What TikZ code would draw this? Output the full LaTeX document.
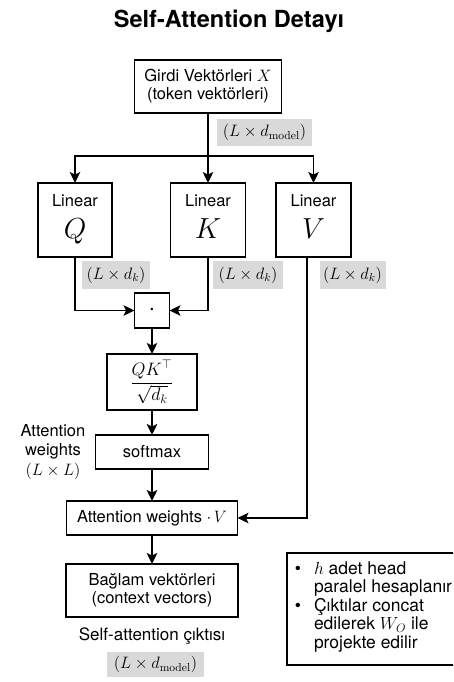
\RequirePackage{fix-cm}
\documentclass[tikz,border=0pt]{standalone}
\usepackage{amsmath}
\usepackage[no-math]{fontspec}
\setmainfont{TeX Gyre Heros}
\usetikzlibrary{arrows.meta}
\definecolor{tagfill}{HTML}{D9D9D9}
\newcommand\txtsize{\fontsize{16.5}{18}\selectfont}
\newcommand\notesize{\fontsize{17.5}{18.5}\selectfont}
\newcommand\bigsym{\fontsize{29}{32}\selectfont}
\newcommand\headsize{\fontsize{23.5}{26}\selectfont\bfseries}
\begin{document}
\begin{tikzpicture}[x=1pt,y=-1pt,line width=1.8pt,
  every node/.style={inner sep=0pt,outer sep=0pt},
  box/.style={draw,line width=1.8pt,fill=white,align=center,font=\txtsize},
  tag/.style={fill=tagfill,font=\txtsize},
  lbl/.style={font=\txtsize},
  arr/.style={-{Stealth[length=11pt,width=10.5pt,inset=2.5pt]}}]
\useasboundingbox (0,0) rectangle (453,682);
\fill[white] (0,0) rectangle (453,682);

% title
\node[font=\headsize] (title) at (229,21) {Self-Attention Detayı};

% input
\node[box,minimum width=147pt,minimum height=53pt] (girdi) at (208,86.5)
  {Girdi Vektörleri $X$\\(token vektörleri)};
\node[tag,minimum width=95pt,minimum height=27pt] (dimx) at (264.5,132.5)
  {$(L\times d_{\mathrm{model}})$};
\coordinate (split) at (208,156);

% linear projections
\node[box,minimum width=74pt,minimum height=74pt] (q) at (75,220) {};
\node[box,minimum width=75pt,minimum height=74pt] (k) at (208,220) {};
\node[box,minimum width=75pt,minimum height=74pt] (v) at (313.5,220) {};
\node[lbl,anchor=base] (qlin) at (75,206) {Linear};
\node[lbl,anchor=base] (klin) at (208,206) {Linear};
\node[lbl,anchor=base] (vlin) at (313.5,206) {Linear};
\node[font=\bigsym,anchor=base] (qsym) at (75,238) {$Q$};
\node[font=\bigsym,anchor=base] (ksym) at (208,238) {$K$};
\node[font=\bigsym,anchor=base] (vsym) at (313.5,238) {$V$};

\node[tag,minimum width=68pt,minimum height=28pt] (dimq) at (116,275) {$(L\times d_k)$};
\node[tag,minimum width=70pt,minimum height=28pt] (dimk) at (248,275) {$(L\times d_k)$};
\node[tag,minimum width=66pt,minimum height=28pt] (dimv) at (352.5,275) {$(L\times d_k)$};

% score path
\node[box,minimum width=35pt,minimum height=35pt,font=\fontsize{24}{24}\selectfont] (dot) at (152,310.5) {$\cdot$};
\node[box,minimum width=90pt,minimum height=56pt,font=\fontsize{18}{20}\selectfont] (scale) at (152,382)
  {$\dfrac{QK^{\top}}{\sqrt{d_k}}$};
\node[box,minimum width=113pt,minimum height=34pt] (soft) at (152,452) {softmax};
\node[lbl,align=center,font=\fontsize{16.5}{19.5}\selectfont] (attnlbl) at (53,452)
  {Attention\\weights\\$(L\times L)$};
\node[box,minimum width=171pt,minimum height=34pt] (attv) at (152,518)
  {Attention weights $\cdot\,V$};
\node[box,minimum width=172pt,minimum height=53pt] (ctx) at (152,590.5)
  {Bağlam vektörleri\\(context vectors)};
\node[font=\fontsize{17}{19}\selectfont] (outlbl) at (152,636) {Self-attention çıktısı};
\node[tag,minimum width=97pt,minimum height=25pt] (dimo) at (155.5,664.5)
  {$(L\times d_{\mathrm{model}})$};

% connectors
\draw (girdi.south) -- (split);
\draw (q.north |- split) -- (v.north |- split);
\draw[arr] (split) -- (k.north);
\draw[arr] (split) -| (q.north);
\draw[arr] (split) -| (v.north);
\draw[arr] (q.south) |- (dot.west);
\draw[arr] (k.south) |- (dot.east);
\draw[arr] (dot.south) -- (scale.north);
\draw[arr] (scale.south) -- (soft.north);
\draw[arr] (soft.south) -- (attv.north);
\draw[arr] ([xshift=-6.5pt]v.south) |- (attv.east);
\draw[arr] (attv.south) -- (ctx.north);

% note on multi-head
\begin{scope}
\clip (0,0) rectangle (453,682);
\draw (287,553) rectangle (470,665);
\end{scope}
\node[font=\notesize,anchor=base] (b1) at (298,574) {\textbullet};
\node[font=\notesize,anchor=base] (b2) at (298,611) {\textbullet};
\node[font=\notesize,anchor=base west] (n1) at (314,574) {$h$ adet head};
\node[font=\notesize,anchor=base west] (n2) at (314,592.5) {paralel hesaplanır};
\node[font=\notesize,anchor=base west] (n3) at (314,611) {Çıktılar concat};
\node[font=\notesize,anchor=base west] (n4) at (314,629.5) {edilerek $W_O$ ile};
\node[font=\notesize,anchor=base west] (n5) at (314,648) {projekte edilir};
\end{tikzpicture}
\end{document}
